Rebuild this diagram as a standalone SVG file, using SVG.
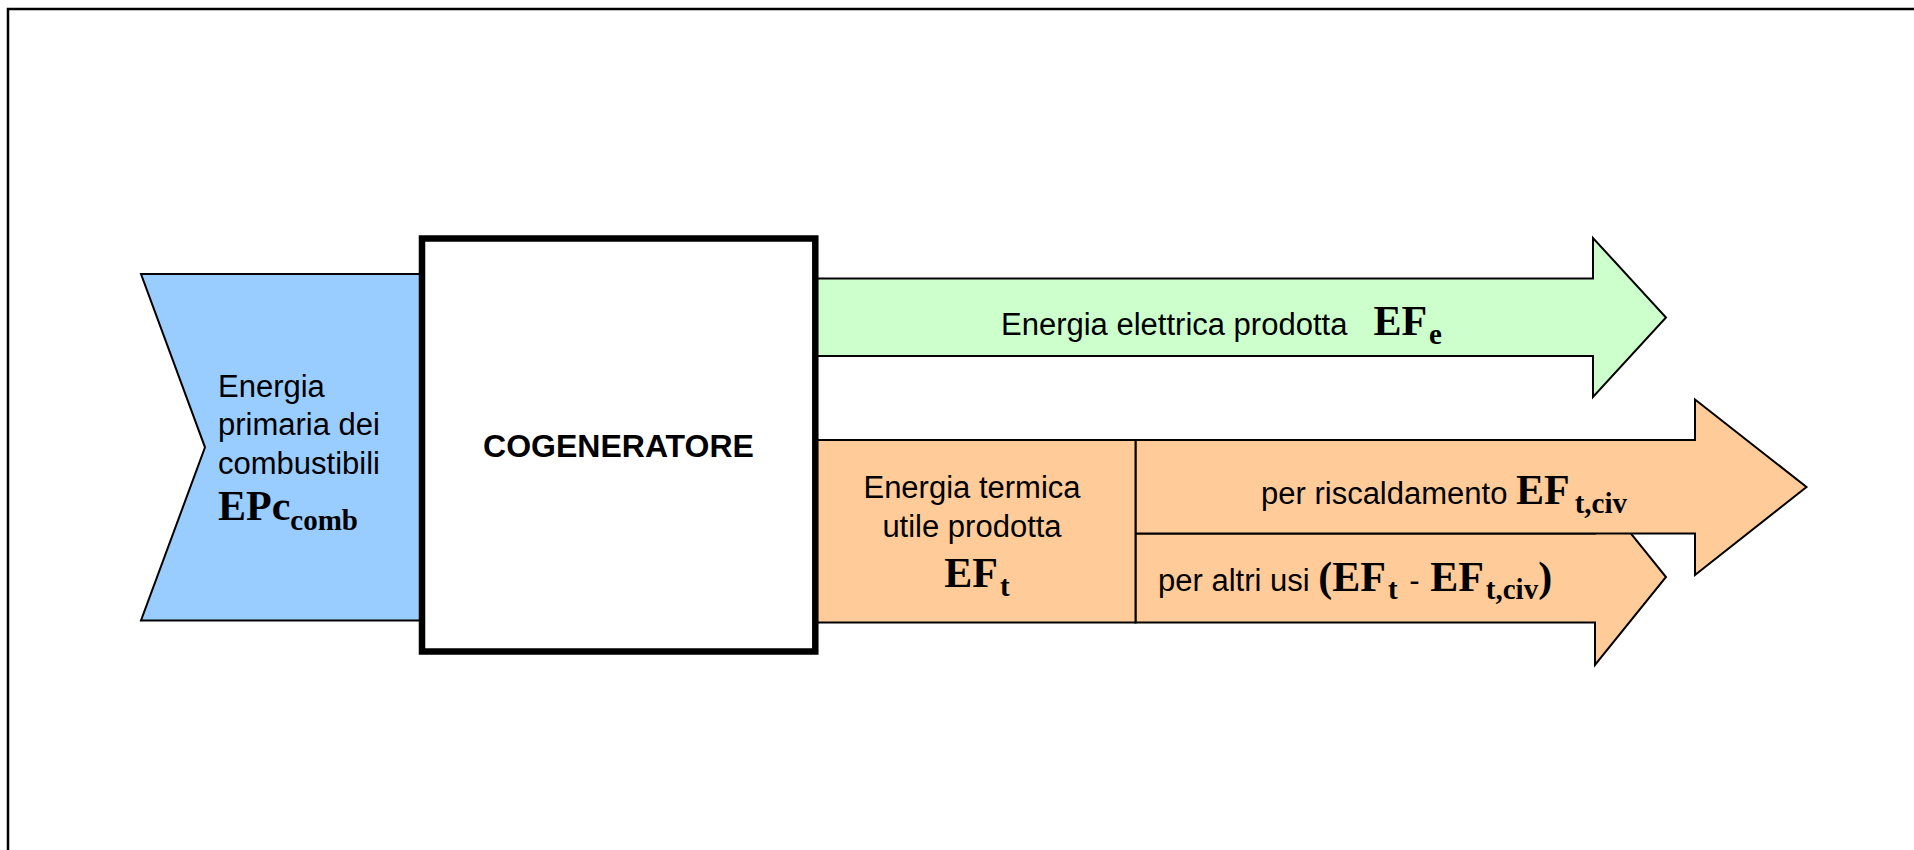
<svg xmlns="http://www.w3.org/2000/svg" width="1914" height="850" viewBox="0 0 1914 850">
<style>
.sans{font-family:"Liberation Sans",Arial,sans-serif;font-size:31px;fill:#000}
.bold{font-weight:bold;font-size:32px}
.ef{font-family:"Liberation Serif","Times New Roman",serif;font-weight:bold;font-size:42px}
.sub{font-family:"Liberation Serif","Times New Roman",serif;font-weight:bold;font-size:29px}
.shape{stroke:#000;stroke-width:2;stroke-linejoin:miter}
</style>
<rect width="1914" height="850" fill="#fff"/>
<path d="M8,850 V9 H1914" fill="none" stroke="#000" stroke-width="2.5"/>
<g id="connectors">
  <g id="input-fuel">
    <polygon class="shape" fill="#99CCFF" points="141,274 430,274 430,620.5 141,620.5 205,447.3"/>
    <text class="sans" x="218" y="397">Energia</text>
    <text class="sans" x="218" y="435">primaria dei</text>
    <text class="sans" x="218" y="474">combustibili</text>
    <text class="sans" x="218" y="520"><tspan class="ef">EPc</tspan><tspan class="sub" dy="10">comb</tspan></text>
  </g>
  <g id="output-electric">
    <polygon class="shape" fill="#CCFFCC" points="815,278.5 1593,278.5 1593,238 1666,317.5 1593,397 1593,356 815,356"/>
    <text class="sans" x="1001" y="335">Energia elettrica prodotta<tspan class="ef" dx="26">EF</tspan><tspan class="sub" dx="2" dy="9">e</tspan></text>
  </g>
  <g id="output-other">
    <polygon class="shape" fill="#FFCC99" points="1135.5,533.5 1595,533.5 1595,489 1666,577 1595,665 1595,622.5 1135.5,622.5"/>
    <text class="sans" x="1158" y="591">per altri usi <tspan class="ef">(EF</tspan><tspan class="sub" dx="2" dy="8">t</tspan><tspan dx="3" dy="-8"> - </tspan><tspan class="ef" dx="2">EF</tspan><tspan class="sub" dx="2" dy="8">t,civ</tspan><tspan class="ef" dy="-8">)</tspan></text>
  </g>
  <g id="output-heating">
    <polygon class="shape" fill="#FFCC99" points="1135.5,440 1695,440 1695,399.5 1806.5,487 1695,575 1695,533.5 1135.5,533.5"/>
    <text class="sans" x="1261" y="504">per riscaldamento <tspan class="ef">EF</tspan><tspan class="sub" dx="5" dy="9">t,civ</tspan></text>
  </g>
</g>
<g id="thermal-output">
  <rect class="shape" fill="#FFCC99" x="815" y="440" width="320.5" height="182.5"/>
  <text class="sans" x="972" y="498" text-anchor="middle">Energia termica</text>
  <text class="sans" x="972" y="537" text-anchor="middle">utile prodotta</text>
  <text class="sans" x="977" y="587" text-anchor="middle"><tspan class="ef">EF</tspan><tspan class="sub" dx="2" dy="9">t</tspan></text>
</g>
<g id="cogeneratore">
  <rect x="422" y="238.5" width="393.3" height="413" fill="#fff" stroke="#000" stroke-width="6.5"/>
  <text class="sans bold" x="618.5" y="457" text-anchor="middle">COGENERATORE</text>
</g>
</svg>
